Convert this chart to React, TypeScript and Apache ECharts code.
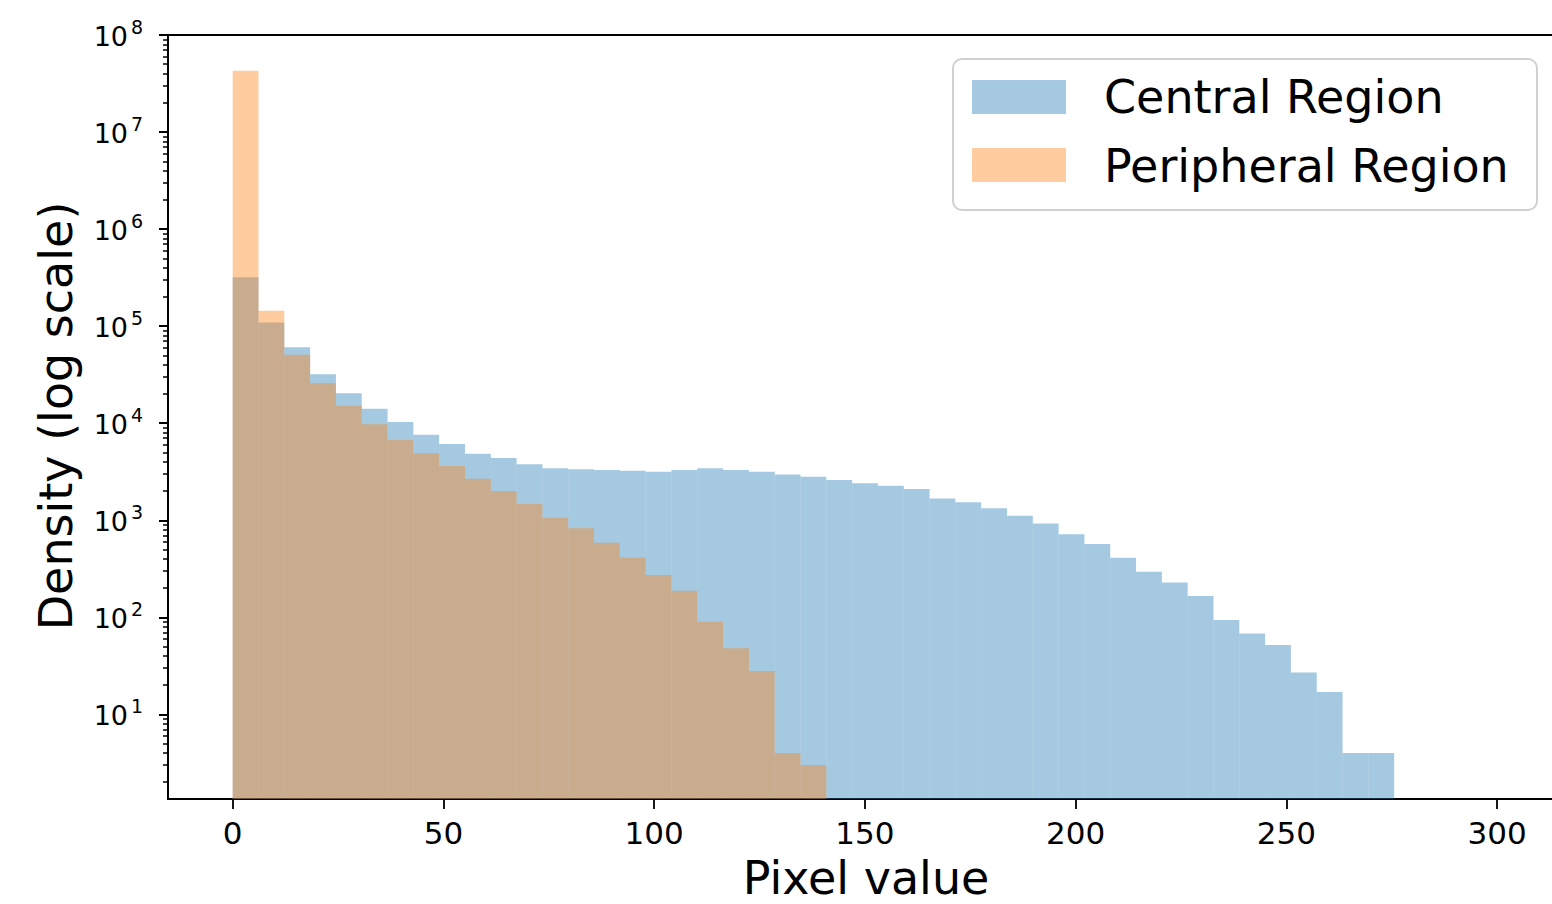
import React, { useEffect, useRef } from "react";
import * as echarts from "echarts";

// ---- data ----
const BIN_WIDTH = 6.1236; // pixel-value width of each histogram bin (bins start at 0)
const centralCounts = [
  3.19e5, 1.09e5, 6.05e4, 3.19e4, 2.03e4, 1.41e4, 1.03e4, 7.62e3, 6.11e3, 4.85e3,
  4.38e3, 3.77e3, 3.43e3, 3.35e3, 3.3e3, 3.24e3, 3.16e3, 3.3e3, 3.43e3, 3.3e3,
  3.16e3, 2.97e3, 2.81e3, 2.6e3, 2.4e3, 2.27e3, 2.1e3, 1.68e3, 1.53e3, 1.33e3,
  1.11e3, 925, 716, 569, 411, 295, 229, 166, 94, 68,
  52, 27, 17, 4, 4,
];
const peripheralCounts = [
  4.29e7, 1.44e5, 5.08e4, 2.58e4, 1.51e4, 9.75e3, 6.71e3, 4.9e3, 3.62e3, 2.68e3,
  2.0e3, 1.47e3, 1.06e3, 826, 587, 411, 273, 188, 90, 48,
  28, 4, 3,
];
const seriesNames = ["Central Region", "Peripheral Region"];
const xTicks = [0, 50, 100, 150, 200, 250, 300];
const yMajorExponents = [1, 2, 3, 4, 5, 6, 7, 8];
const xAxisTitle = "Pixel value";
const yAxisTitle = "Density (log scale)";

// axis limits
const X_MIN = -15.35;
const X_MAX = 322.5;
const Y_MIN = 1.343;
const Y_MAX = 1e8;
const LOG_MIN = Math.log10(Y_MIN);
const LOG_MAX = Math.log10(Y_MAX);

const FONT = "DejaVu Sans";
const BLUE = "rgba(31,119,180,0.4)";
const ORANGE = "rgba(255,127,14,0.4)";

function toBins(counts: number[]) {
  return counts.map((c, i) => [i * BIN_WIDTH, (i + 1) * BIN_WIDTH, c]);
}

// minor tick positions (2..9 x 10^n), in decades, for the tick-only helper axis
function minorTickDecades() {
  const out: number[] = [];
  for (let n = 0; n < 8; n++) {
    for (let k = 2; k <= 9; k++) {
      const d = Math.log10(k * Math.pow(10, n));
      if (d >= LOG_MIN && d <= LOG_MAX) out.push(d);
    }
  }
  return out;
}

function buildTickLabels() {
  return yMajorExponents.map((e) => [X_MIN, Math.pow(10, e), e]);
}

function histRender(color: string) {
  return (params: any, api: any) => {
    const x0 = api.value(0);
    const x1 = api.value(1);
    const v = api.value(2);
    const p0 = api.coord([x0, v]);
    const p1 = api.coord([x1, v]);
    const base = api.coord([x0, Y_MIN]);
    return {
      type: "rect",
      shape: { x: p0[0], y: p0[1], width: p1[0] - p0[0], height: base[1] - p0[1] },
      style: { fill: color },
    };
  };
}

function tickLabelRender(params: any, api: any) {
  const v = api.value(1);
  const exp = api.value(2);
  const p = api.coord([X_MIN, v]);
  return {
    type: "group",
    children: [
      {
        type: "text",
        x: p[0] - 40,
        y: p[1] + 1,
        style: {
          text: "10",
          fontSize: 27,
          fontFamily: FONT,
          fill: "#000",
          align: "right",
          verticalAlign: "middle",
        },
      },
      {
        type: "text",
        x: p[0] - 37,
        y: p[1] - 8,
        style: {
          text: String(exp),
          fontSize: 19,
          fontFamily: FONT,
          fill: "#000",
          align: "left",
          verticalAlign: "middle",
        },
      },
    ],
  };
}

function tickAxis(values: number[], len: number, width: number) {
  return {
    type: "value",
    gridIndex: 0,
    position: "left",
    offset: 0,
    min: LOG_MIN,
    max: LOG_MAX,
    axisLine: { show: false, onZero: false },
    axisTick: {
      show: true,
      customValues: values,
      length: len,
      lineStyle: { color: "#000", width },
    },
    axisLabel: { show: false, customValues: values },
    splitLine: { show: false },
  };
}

export default function App() {
  const ref = useRef<HTMLDivElement>(null);

  useEffect(() => {
    if (!ref.current) return;
    const chart = echarts.init(ref.current, undefined, { renderer: "svg" });
    const option: any = {
      animation: false,
      backgroundColor: "#ffffff",
      grid: {
        left: 168,
        top: 35,
        right: 8,
        bottom: 105,
        show: true,
        borderColor: "#000",
        borderWidth: 2,
        backgroundColor: "transparent",
      },
      xAxis: {
        type: "value",
        min: X_MIN,
        max: X_MAX,
        axisLine: { show: true, onZero: false, lineStyle: { color: "#000", width: 2 } },
        axisTick: {
          show: true,
          customValues: xTicks,
          length: 10,
          lineStyle: { color: "#000", width: 1.8 },
        },
        axisLabel: {
          show: true,
          customValues: xTicks,
          fontSize: 31,
          fontFamily: FONT,
          color: "#000",
          margin: 18,
        },
        splitLine: { show: false },
      },
      yAxis: [
        {
          type: "log",
          logBase: 10,
          min: Y_MIN,
          max: Y_MAX,
          axisLine: { show: true, onZero: false, lineStyle: { color: "#000", width: 2 } },
          axisTick: { show: false },
          axisLabel: { show: false },
          splitLine: { show: false },
          minorTick: { show: false },
        },
        tickAxis(yMajorExponents, 9, 2),
        tickAxis(minorTickDecades(), 5, 1.5),
      ],
      series: [
        {
          name: seriesNames[0],
          type: "custom",
          renderItem: histRender(BLUE),
          data: toBins(centralCounts),
          encode: { x: [0, 1], y: 2 },
          clip: true,
          z: 2,
        },
        {
          name: seriesNames[1],
          type: "custom",
          renderItem: histRender(ORANGE),
          data: toBins(peripheralCounts),
          encode: { x: [0, 1], y: 2 },
          clip: true,
          z: 3,
        },
        {
          name: "yTickLabels",
          type: "custom",
          renderItem: tickLabelRender,
          data: buildTickLabels(),
          encode: { x: 0, y: 1 },
          clip: false,
          silent: true,
          z: 6,
        },
      ],
      graphic: [
        {
          type: "text",
          x: 56,
          y: 416,
          rotation: Math.PI / 2,
          style: {
            text: yAxisTitle,
            fontSize: 46,
            fontFamily: FONT,
            fill: "#000",
            align: "center",
            verticalAlign: "middle",
          },
        },
        {
          type: "text",
          x: 866,
          y: 878,
          style: {
            text: xAxisTitle,
            fontSize: 46,
            fontFamily: FONT,
            fill: "#000",
            align: "center",
            verticalAlign: "middle",
          },
        },
        {
          type: "group",
          children: [
            {
              type: "rect",
              shape: { x: 953, y: 59, width: 584, height: 151, r: 9 },
              style: { fill: "rgba(255,255,255,0.8)", stroke: "#d0d0d0", lineWidth: 2 },
            },
            {
              type: "rect",
              shape: { x: 972, y: 80, width: 94, height: 34 },
              style: { fill: BLUE },
            },
            {
              type: "rect",
              shape: { x: 972, y: 148, width: 94, height: 34 },
              style: { fill: ORANGE },
            },
            {
              type: "text",
              x: 1104,
              y: 97,
              style: {
                text: seriesNames[0],
                fontSize: 46,
                fontFamily: FONT,
                fill: "#000",
                align: "left",
                verticalAlign: "middle",
              },
            },
            {
              type: "text",
              x: 1104,
              y: 166,
              style: {
                text: seriesNames[1],
                fontSize: 46,
                fontFamily: FONT,
                fill: "#000",
                align: "left",
                verticalAlign: "middle",
              },
            },
          ],
        },
      ],
    };
    chart.setOption(option);
    return () => chart.dispose();
  }, []);

  return (
    <div
      ref={ref}
      style={{ position: "fixed", left: 0, top: 0, width: 1600, height: 904, background: "#fff" }}
    />
  );
}
